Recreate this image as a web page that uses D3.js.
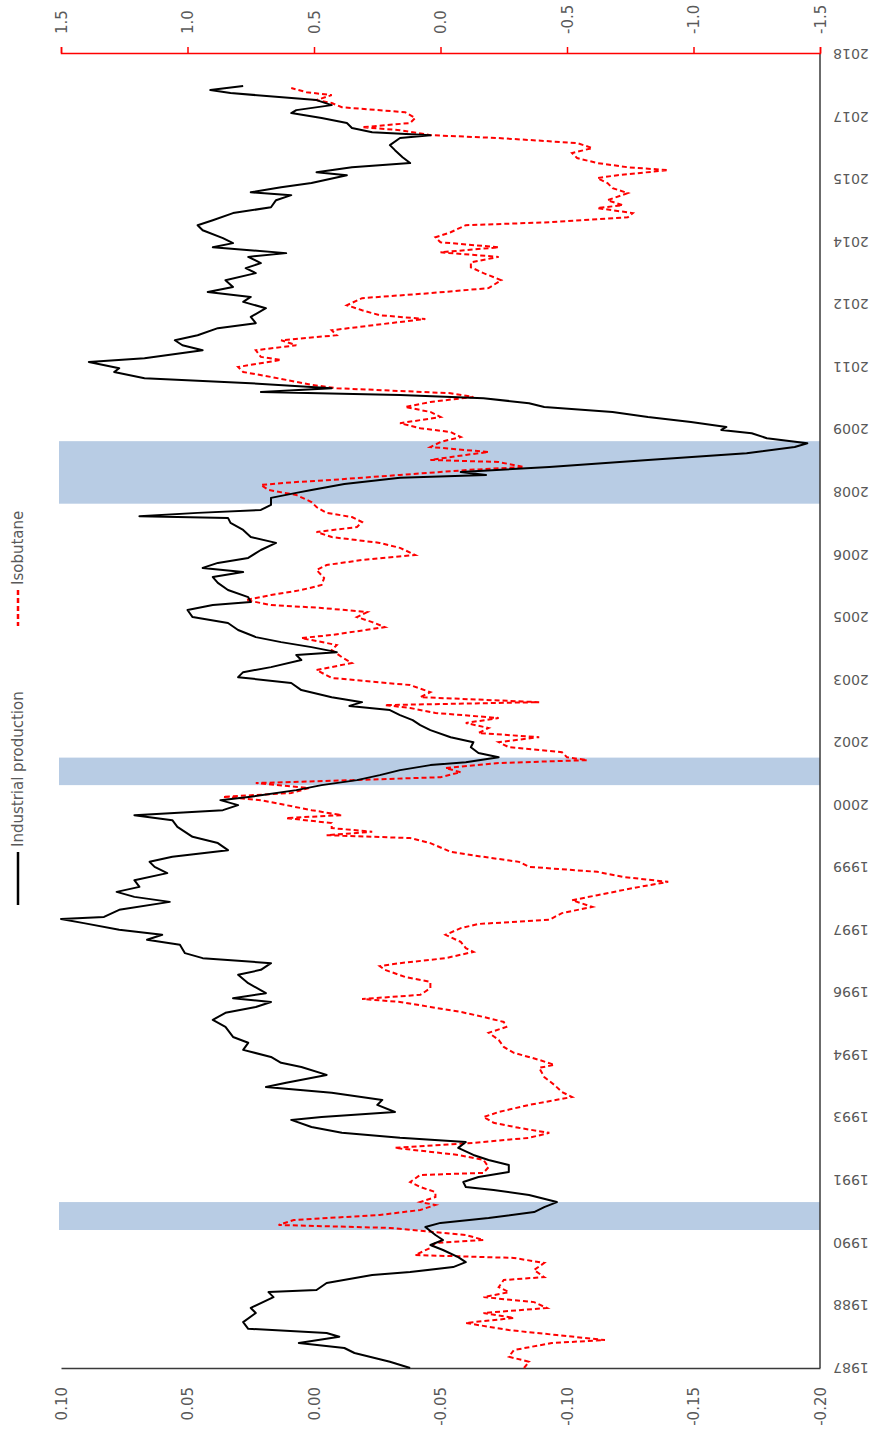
<!DOCTYPE html>
<html>
<head>
<meta charset="utf-8">
<script src="https://cdn.jsdelivr.net/npm/d3@7"></script>
<style>
  html, body { margin: 0; padding: 0; background: #fff; }
  svg { display: block; }
  text { font-family: "DejaVu Sans", "Liberation Sans", sans-serif; fill: #595959; }
</style>
</head>
<body>
<svg id="chart" width="875" height="1435"></svg>
<script>
// ---------------- DATA ----------------
const seriesNames = ["Industrial production", "Isobutane"];

// Industrial production (left axis), decimal year / value
const ipDates = [1987.19,1987.34,1987.55,1987.67,1987.79,1987.94,1988.03,1988.13,1988.29,1988.51,1988.63,1988.89,1989.01,1989.06,1989.23,1989.42,1989.49,1989.61,1989.73,1989.85,1990.02,1990.14,1990.26,1990.38,1990.57,1990.67,1990.79,1990.93,1991.05,1991.17,1991.34,1991.46,1991.53,1991.65,1991.77,1991.89,1992.06,1992.18,1992.30,1992.47,1992.61,1992.71,1992.83,1992.97,1993.14,1993.21,1993.33,1993.50,1993.62,1993.79,1993.93,1994.03,1994.22,1994.41,1994.51,1994.65,1994.82,1994.99,1995.13,1995.37,1995.54,1995.71,1995.85,1995.97,1996.06,1996.18,1996.42,1996.62,1996.74,1996.90,1997.02,1997.14,1997.34,1997.46,1997.58,1997.70,1997.86,1997.96,1998.01,1998.18,1998.37,1998.49,1998.61,1998.73,1998.89,1999.06,1999.21,1999.33,1999.45,1999.61,1999.78,1999.93,2000.17,2000.33,2000.45,2000.57,2000.69,2000.81,2000.89,2001.05,2001.17,2001.29,2001.41,2001.53,2001.65,2001.72,2001.84,2001.94,2002.08,2002.20,2002.32,2002.49,2002.61,2002.73,2002.85,2002.97,2003.07,2003.16,2003.28,2003.45,2003.62,2003.76,2003.88,2004.00,2004.17,2004.29,2004.36,2004.48,2004.60,2004.72,2004.89,2005.06,2005.20,2005.37,2005.49,2005.56,2005.68,2005.85,2006.02,2006.16,2006.28,2006.38,2006.50,2006.62,2006.81,2006.98,2007.12,2007.29,2007.46,2007.58,2007.62,2007.70,2007.77,2007.89,2008.06,2008.18,2008.25,2008.39,2008.54,2008.61,2008.68,2008.80,2008.97,2009.13,2009.28,2009.37,2009.49,2009.61,2009.69,2009.76,2009.88,2010.00,2010.12,2010.24,2010.33,2010.45,2010.53,2010.60,2010.69,2010.81,2010.93,2011.08,2011.17,2011.32,2011.41,2011.60,2011.72,2011.84,2011.96,2012.13,2012.25,2012.40,2012.61,2012.76,2012.88,2013.00,2013.12,2013.28,2013.45,2013.57,2013.69,2013.84,2013.93,2014.07,2014.17,2014.29,2014.48,2014.60,2014.72,2014.89,2015.03,2015.20,2015.32,2015.39,2015.51,2015.61,2015.80,2015.87,2015.99,2016.09,2016.23,2016.40,2016.52,2016.69,2016.76,2016.83,2016.93,2017.05,2017.17,2017.29,2017.36,2017.48,2017.60,2017.77,2017.84,2017.94];
const ipValues = [-0.038,-0.030,-0.016,-0.012,0.006,-0.010,-0.005,0.026,0.028,0.023,0.025,0.016,0.018,-0.001,-0.005,-0.023,-0.038,-0.055,-0.060,-0.057,-0.051,-0.046,-0.051,-0.048,-0.044,-0.050,-0.069,-0.087,-0.091,-0.096,-0.085,-0.071,-0.060,-0.059,-0.065,-0.077,-0.077,-0.069,-0.063,-0.057,-0.060,-0.034,-0.011,0.001,0.009,-0.003,-0.032,-0.025,-0.027,-0.007,0.019,0.011,-0.005,0.005,0.013,0.017,0.028,0.026,0.032,0.035,0.040,0.035,0.023,0.017,0.032,0.019,0.026,0.030,0.021,0.017,0.044,0.051,0.053,0.066,0.060,0.077,0.091,0.100,0.083,0.077,0.057,0.071,0.078,0.069,0.071,0.058,0.063,0.065,0.056,0.034,0.038,0.048,0.054,0.056,0.071,0.036,0.030,0.037,0.025,0.007,-0.003,-0.017,-0.026,-0.034,-0.046,-0.060,-0.073,-0.065,-0.062,-0.063,-0.054,-0.046,-0.042,-0.039,-0.034,-0.030,-0.014,-0.019,-0.007,0.005,0.009,0.030,0.028,0.017,0.005,0.007,-0.009,0.001,0.013,0.023,0.030,0.034,0.048,0.050,0.040,0.025,0.026,0.034,0.038,0.040,0.028,0.044,0.038,0.026,0.021,0.015,0.025,0.028,0.033,0.034,0.069,0.046,0.021,0.017,0.017,0.007,0.001,-0.012,-0.034,-0.068,-0.058,-0.093,-0.132,-0.171,-0.190,-0.195,-0.179,-0.173,-0.161,-0.163,-0.149,-0.132,-0.118,-0.091,-0.085,-0.067,-0.034,0.021,-0.007,0.025,0.067,0.079,0.077,0.089,0.067,0.044,0.052,0.055,0.046,0.038,0.023,0.025,0.019,0.028,0.025,0.042,0.032,0.035,0.023,0.027,0.021,0.026,0.011,0.040,0.032,0.036,0.044,0.046,0.040,0.032,0.017,0.015,0.009,0.025,0.013,0.001,-0.013,-0.001,-0.015,-0.038,-0.035,-0.032,-0.030,-0.034,-0.046,-0.023,-0.015,-0.013,-0.003,0.009,0.007,-0.007,-0.001,0.033,0.041,0.028];

// Isobutane (right axis), decimal year / value
const isoDates = [1987.19,1987.34,1987.46,1987.62,1987.79,1987.86,1987.98,1988.10,1988.27,1988.39,1988.51,1988.63,1988.77,1988.89,1989.01,1989.13,1989.30,1989.37,1989.54,1989.71,1989.83,1989.90,1990.07,1990.19,1990.26,1990.38,1990.55,1990.62,1990.74,1990.86,1990.98,1991.10,1991.17,1991.29,1991.41,1991.53,1991.65,1991.82,1991.87,1992.01,1992.18,1992.30,1992.47,1992.59,1992.71,1992.83,1992.95,1993.07,1993.21,1993.33,1993.50,1993.69,1993.81,1993.98,1994.17,1994.39,1994.46,1994.58,1994.75,1994.89,1995.06,1995.23,1995.37,1995.49,1995.61,1995.73,1995.85,1995.97,1996.04,1996.14,1996.30,1996.45,1996.57,1996.74,1996.83,1996.90,1997.02,1997.17,1997.26,1997.41,1997.58,1997.74,1997.84,1997.94,1998.10,1998.25,1998.41,1998.53,1998.70,1998.85,1998.97,1999.09,1999.21,1999.33,1999.45,1999.57,1999.78,1999.90,1999.97,2000.05,2000.14,2000.26,2000.38,2000.45,2000.57,2000.69,2000.81,2000.89,2000.98,2001.10,2001.22,2001.29,2001.36,2001.48,2001.58,2001.70,2001.77,2001.84,2001.96,2002.08,2002.20,2002.32,2002.42,2002.54,2002.66,2002.78,2002.90,2003.02,2003.09,2003.16,2003.28,2003.40,2003.57,2003.74,2003.93,2004.10,2004.24,2004.41,2004.53,2004.70,2004.77,2004.96,2005.08,2005.20,2005.32,2005.42,2005.49,2005.61,2005.73,2005.85,2005.97,2006.14,2006.33,2006.45,2006.57,2006.69,2006.86,2006.98,2007.12,2007.24,2007.36,2007.48,2007.60,2007.70,2007.84,2007.96,2008.13,2008.25,2008.37,2008.44,2008.49,2008.61,2008.73,2008.80,2008.92,2008.97,2009.09,2009.16,2009.28,2009.40,2009.52,2009.64,2009.73,2009.85,2010.00,2010.12,2010.24,2010.36,2010.48,2010.57,2010.69,2010.77,2010.89,2010.96,2011.08,2011.20,2011.37,2011.44,2011.60,2011.72,2011.84,2011.96,2012.08,2012.25,2012.35,2012.44,2012.56,2012.68,2012.85,2012.97,2013.09,2013.28,2013.45,2013.59,2013.71,2013.84,2013.95,2014.07,2014.19,2014.31,2014.43,2014.60,2014.67,2014.79,2014.89,2015.01,2015.08,2015.20,2015.37,2015.49,2015.61,2015.73,2015.80,2015.92,2015.99,2016.09,2016.21,2016.33,2016.45,2016.57,2016.69,2016.76,2016.88,2016.95,2017.05,2017.17,2017.31,2017.43,2017.53,2017.60,2017.72,2017.79,2017.89];
const isoValues = [-0.33,-0.35,-0.27,-0.29,-0.44,-0.65,-0.46,-0.27,-0.10,-0.29,-0.17,-0.42,-0.37,-0.17,-0.27,-0.23,-0.25,-0.41,-0.37,-0.41,-0.29,0.10,0.04,0.02,-0.17,-0.10,0.20,0.64,0.58,0.24,0.08,0.02,0.08,0.02,0.02,0.08,0.12,0.08,-0.17,-0.19,-0.17,-0.07,0.18,-0.13,-0.35,-0.43,-0.31,-0.21,-0.17,-0.23,-0.35,-0.52,-0.48,-0.45,-0.41,-0.39,-0.45,-0.39,-0.29,-0.25,-0.23,-0.19,-0.26,-0.25,-0.17,-0.08,0.04,0.16,0.31,0.08,0.04,0.04,0.14,0.22,0.24,0.16,-0.02,-0.13,-0.10,-0.08,-0.02,-0.08,-0.15,-0.43,-0.48,-0.60,-0.52,-0.62,-0.76,-0.90,-0.72,-0.62,-0.35,-0.31,-0.17,-0.04,0.04,0.12,0.45,0.27,0.43,0.43,0.61,0.39,0.51,0.61,0.71,0.86,0.59,0.52,0.73,0.35,0.00,-0.08,-0.02,-0.23,-0.58,-0.50,-0.48,-0.27,-0.23,-0.39,-0.15,-0.19,-0.10,-0.23,0.02,0.12,0.22,-0.39,0.08,0.04,0.12,0.43,0.49,0.35,0.39,0.43,0.41,0.55,0.43,0.22,0.27,0.33,0.29,0.47,0.67,0.77,0.67,0.55,0.47,0.46,0.49,0.45,0.31,0.10,0.16,0.24,0.43,0.49,0.33,0.31,0.35,0.45,0.49,0.51,0.57,0.68,0.71,0.57,0.43,0.16,-0.11,-0.33,-0.23,0.04,-0.10,-0.19,0.04,0.00,-0.08,-0.04,0.08,0.16,0.00,0.04,0.14,0.04,-0.13,-0.04,0.41,0.51,0.61,0.67,0.78,0.80,0.63,0.71,0.73,0.57,0.63,0.41,0.43,0.20,0.06,0.24,0.31,0.37,0.31,0.04,-0.19,-0.24,-0.17,-0.12,-0.12,-0.23,0.00,-0.23,0.00,0.02,-0.04,-0.10,-0.43,-0.74,-0.76,-0.62,-0.72,-0.66,-0.74,-0.68,-0.66,-0.62,-0.70,-0.90,-0.74,-0.62,-0.54,-0.52,-0.60,-0.54,-0.23,0.04,0.16,0.31,0.12,0.10,0.14,0.39,0.43,0.49,0.43,0.53,0.59];

// Recession periods (start, end) in decimal years
const recessionStarts = [1990.50, 2001.17, 2007.92];
const recessionEnds   = [1991.17, 2001.83, 2009.42];

// Axis ticks
const ipTicks  = [0.10, 0.05, 0.00, -0.05, -0.10, -0.15, -0.20];
const isoTicks = [1.5, 1.0, 0.5, 0.0, -0.5, -1.0, -1.5];
const yearTickPositions = [1987.2,1988.7,1990.2,1991.7,1993.2,1994.7,1996.2,1997.7,1999.2,2000.7,2002.2,2003.7,2005.2,2006.7,2008.2,2009.7,2011.2,2012.7,2014.2,2015.7,2017.2,2018.7];
const yearTickLabels = ["1987","1988","1990","1991","1993","1994","1996","1997","1999","2000","2002","2003","2005","2006","2008","2009","2011","2012","2014","2015","2017","2018"];
const timeDomain = [1987.19, 2018.73];

// ---------------- LAYOUT (rotated chart: time runs bottom->top) ----------------
const plot = { left: 61, right: 820, top: 53, bottom: 1368 };
const svg = d3.select("#chart");

const yT = d3.scaleLinear().domain(timeDomain).range([plot.bottom, plot.top]);
const xIP = d3.scaleLinear().domain([-0.20, 0.10]).range([plot.right, plot.left]);
const xIso = d3.scaleLinear().domain([-1.5, 1.5]).range([plot.right, plot.left]);

// recession shading
svg.append("g").selectAll("rect")
  .data(recessionStarts.map((s, i) => ({ s, e: recessionEnds[i] })))
  .join("rect")
  .attr("x", plot.left - 2)
  .attr("width", plot.right - plot.left + 2)
  .attr("y", d => yT(d.e))
  .attr("height", d => yT(d.s) - yT(d.e))
  .attr("fill", "#b8cce4");

// time axis line (vertical, right side)
svg.append("line")
  .attr("x1", plot.right).attr("x2", plot.right)
  .attr("y1", plot.top).attr("y2", plot.bottom)
  .attr("stroke", "#3a3a3a").attr("stroke-width", 1.5);

// year labels (upside down)
svg.append("g").selectAll("text")
  .data(yearTickPositions.map((p, i) => ({ p, l: yearTickLabels[i] })))
  .join("text")
  .attr("transform", d => `translate(851,${yT(d.p)}) rotate(180)`)
  .attr("text-anchor", "middle")
  .attr("dominant-baseline", "central")
  .style("font-size", "14px")
  .text(d => d.l);

// bottom axis: industrial production
const ipAxis = svg.append("g")
  .attr("transform", `translate(0,${plot.bottom})`)
  .call(d3.axisBottom(xIP).tickValues(ipTicks).tickSize(0).tickFormat(d => d.toFixed(2)));
ipAxis.select(".domain").attr("stroke", "#3a3a3a").attr("stroke-width", 1.5);
ipAxis.selectAll("text")
  .attr("transform", "rotate(-90)")
  .attr("x", -19).attr("y", 0).attr("dy", "0.35em")
  .style("text-anchor", "end")
  .style("font-size", "15px")
  .style("font-family", "DejaVu Sans, sans-serif")
  .attr("fill", "#595959");

// top axis: isobutane (red)
const isoAxis = svg.append("g")
  .attr("transform", `translate(0,${plot.top})`)
  .call(d3.axisTop(xIso).tickValues(isoTicks).tickSize(6).tickFormat(d => d.toFixed(1)));
isoAxis.select(".domain").attr("stroke", "#ff0000").attr("stroke-width", 1.5);
isoAxis.selectAll(".tick line").attr("stroke", "#ff0000").attr("stroke-width", 1.5);
isoAxis.selectAll("text")
  .attr("transform", "rotate(-90)")
  .attr("x", 19).attr("y", 0).attr("dy", "0.35em")
  .style("text-anchor", "start")
  .style("font-size", "15px")
  .style("font-family", "DejaVu Sans, sans-serif")
  .attr("fill", "#595959");

// series lines
const ipData = ipDates.map((t, i) => ({ t, v: ipValues[i] }));
const isoData = isoDates.map((t, i) => ({ t, v: isoValues[i] }));

svg.append("path")
  .datum(isoData)
  .attr("fill", "none")
  .attr("stroke", "#ff0000")
  .attr("stroke-width", 2)
  .attr("stroke-dasharray", "5,3")
  .attr("d", d3.line().x(d => xIso(d.v)).y(d => yT(d.t)));

svg.append("path")
  .datum(ipData)
  .attr("fill", "none")
  .attr("stroke", "#000")
  .attr("stroke-width", 2)
  .attr("stroke-linejoin", "round")
  .attr("d", d3.line().x(d => xIP(d.v)).y(d => yT(d.t)));

// legend (rotated, on the left)
const legend = svg.append("g");
legend.append("line")
  .attr("x1", 18).attr("x2", 18).attr("y1", 852).attr("y2", 905)
  .attr("stroke", "#000").attr("stroke-width", 2.5);
legend.append("text")
  .attr("transform", "translate(18,847) rotate(-90)")
  .attr("text-anchor", "start")
  .attr("dominant-baseline", "central")
  .style("font-size", "15px")
  .text(seriesNames[0]);
legend.append("line")
  .attr("x1", 18).attr("x2", 18).attr("y1", 590).attr("y2", 626)
  .attr("stroke", "#ff0000").attr("stroke-width", 2.5)
  .attr("stroke-dasharray", "5,3");
legend.append("text")
  .attr("transform", "translate(18,585) rotate(-90)")
  .attr("text-anchor", "start")
  .attr("dominant-baseline", "central")
  .style("font-size", "15px")
  .text(seriesNames[1]);
</script>
</body>
</html>
